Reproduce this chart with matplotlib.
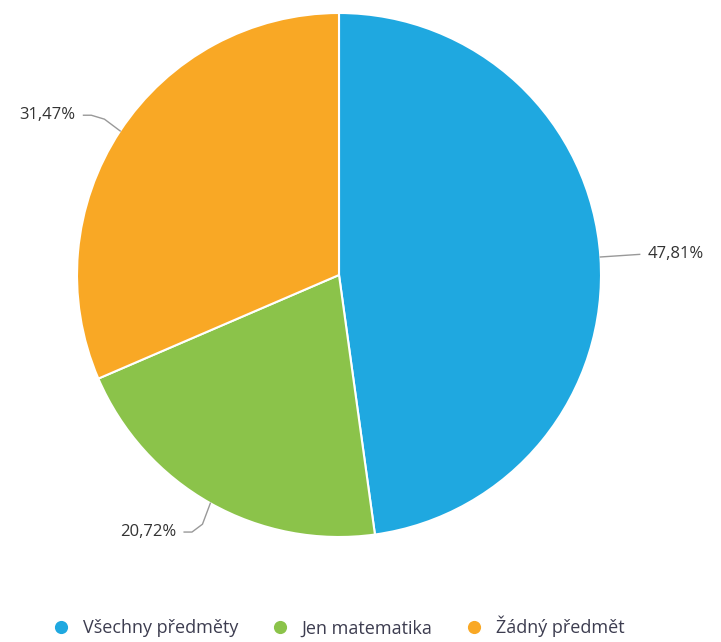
import numpy as np
import matplotlib.pyplot as plt
from matplotlib.lines import Line2D

labels = ["Všechny předměty", "Jen matematika", "Žádný předmět"]
values = [47.81, 20.72, 31.47]
value_labels = ["47,81%", "20,72%", "31,47%"]
colors = ["#1fa8e0", "#8bc34a", "#f9a825"]

plt.rcParams['font.family'] = ['Open Sans', 'DejaVu Sans']

fig = plt.figure(figsize=(7.21, 6.42), dpi=100)
ax = fig.add_axes([77 / 721, 105 / 642, 524 / 721, 524 / 642])
wedges, _ = ax.pie(values, colors=colors, startangle=90, counterclock=False,
                   radius=1.0, wedgeprops=dict(edgecolor="white", linewidth=1.5))
ax.set_xlim(-1, 1)
ax.set_ylim(-1, 1)
ax.set_aspect("equal")
ax.axis("off")

# leader lines + value labels
for w, txt in zip(wedges, value_labels):
    ang = np.deg2rad((w.theta1 + w.theta2) / 2)
    x0, y0 = np.cos(ang), np.sin(ang)
    if x0 > 0:
        xs = [x0, x0 + 0.15]
        ys = [y0, y0 + 0.01]
        ax.plot(xs, ys, color="#999999", lw=1, clip_on=False)
        ax.text(xs[-1] + 0.03, ys[-1], txt, ha="left", va="center",
                fontsize=12, color="#333333")
    elif y0 > 0:
        xs = [x0, x0 - 0.06, x0 - 0.11, x0 - 0.14]
        ys = [y0, y0 + 0.045, y0 + 0.06, y0 + 0.06]
        ax.plot(xs, ys, color="#999999", lw=1, clip_on=False)
        ax.text(xs[-1] - 0.03, ys[-1], txt, ha="right", va="center",
                fontsize=12, color="#333333")
    else:
        xs = [x0, x0 - 0.03, x0 - 0.07, x0 - 0.1]
        ys = [y0, y0 - 0.08, y0 - 0.11, y0 - 0.11]
        ax.plot(xs, ys, color="#999999", lw=1, clip_on=False)
        ax.text(xs[-1] - 0.03, ys[-1], txt, ha="right", va="center",
                fontsize=12, color="#333333")

handles = [Line2D([0], [0], marker="o", color="w", markerfacecolor=c,
                  markersize=10.5) for c in colors]
fig.legend(handles, labels, loc="lower center", bbox_to_anchor=(0.463, -0.018),
           ncol=3, frameon=False, fontsize=13, handletextpad=0.2,
           columnspacing=1.3, labelcolor="#3d3d50")

fig.savefig("out.png", dpi=100)
